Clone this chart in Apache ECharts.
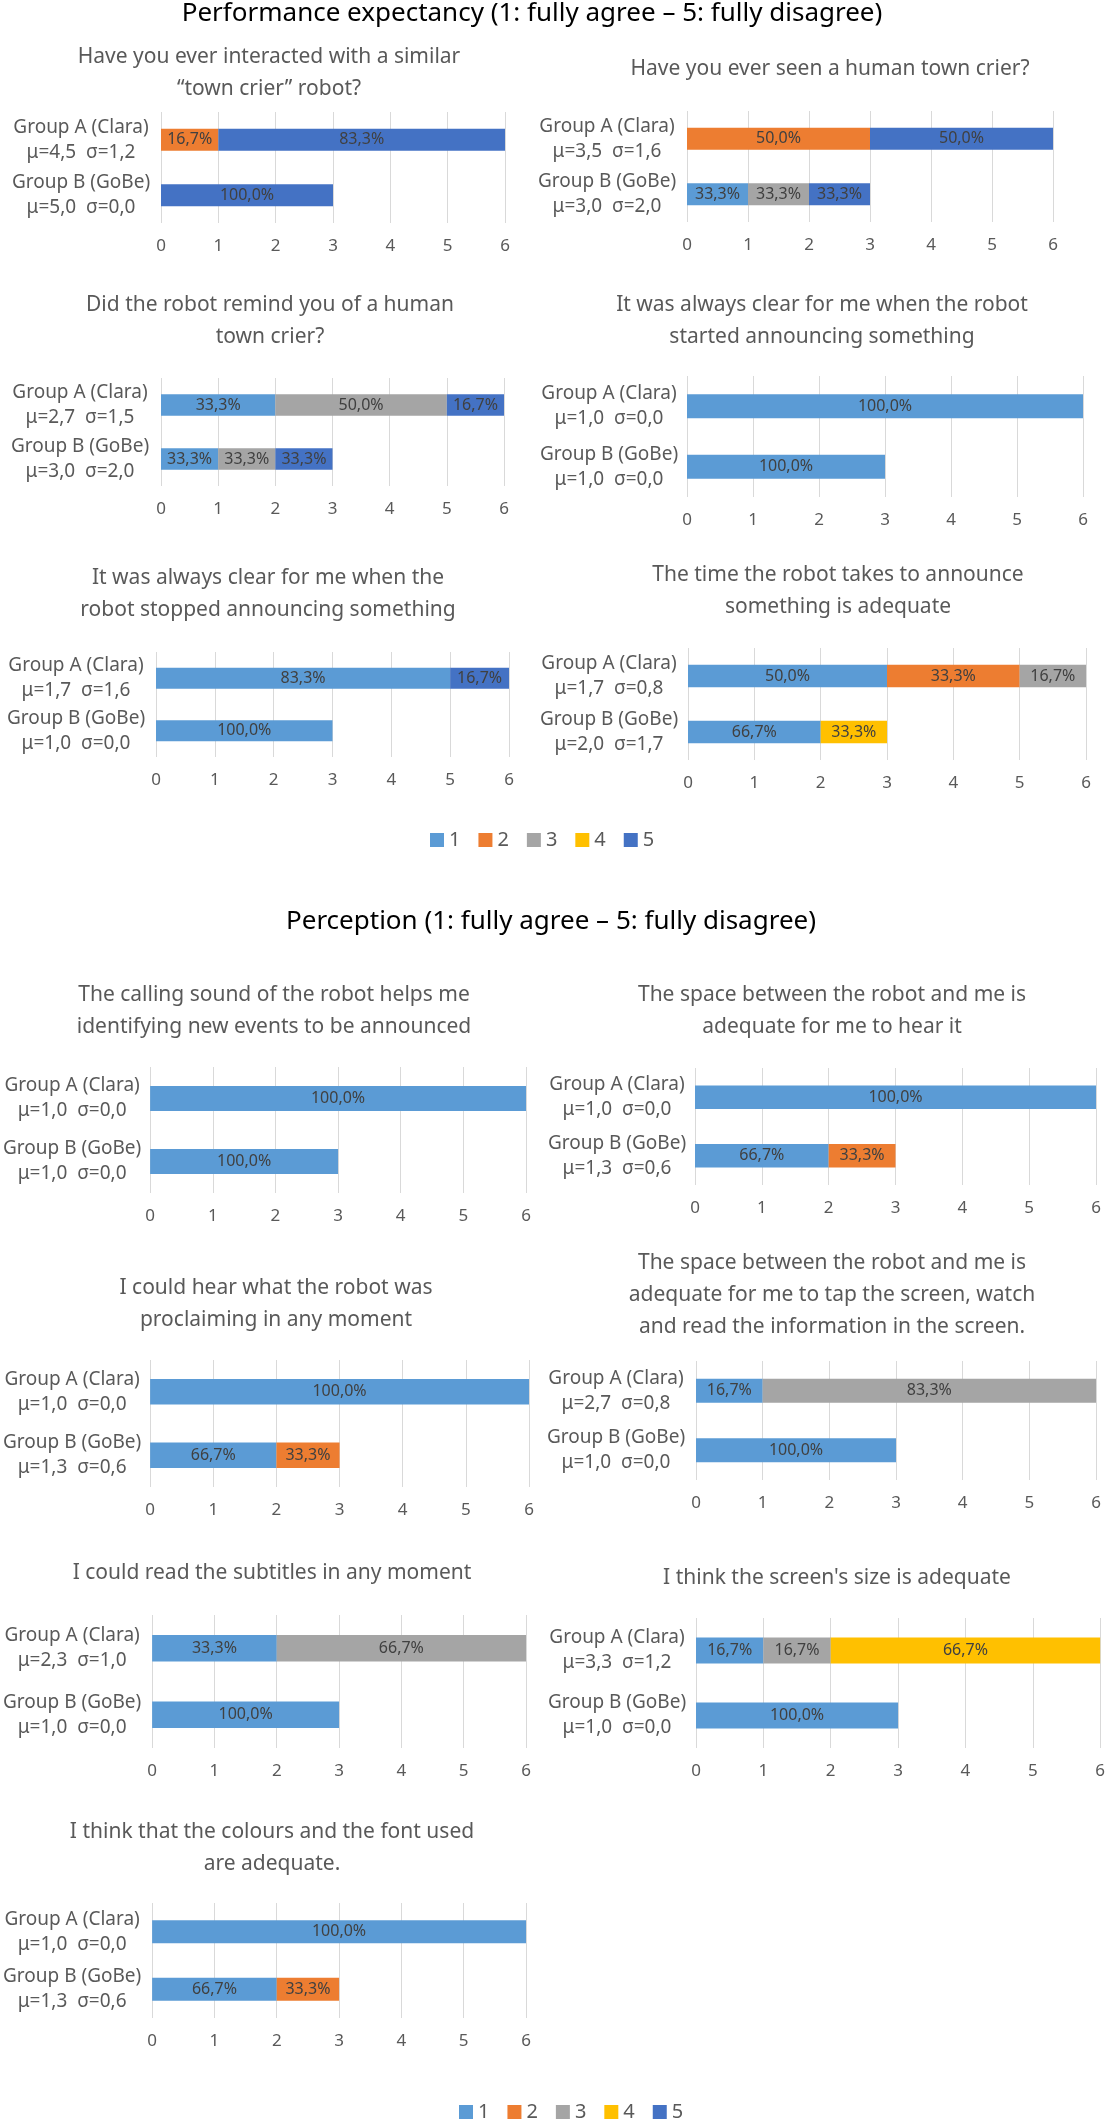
<!DOCTYPE html>
<html>
<head>
<meta charset="utf-8">
<script src="https://cdn.jsdelivr.net/npm/echarts@6/dist/echarts.min.js"></script>
<style>
html,body{margin:0;padding:0;background:#fff;}
#chart{width:1108px;height:2124px;}
</style>
</head>
<body>
<div id="chart"></div>
<script>
// ---------- DATA ----------
const sectionTitles = [
  'Performance expectancy (1: fully agree \u2013 5: fully disagree)',
  'Perception (1: fully agree \u2013 5: fully disagree)'
];
const panelTitles = [
  ['Have you ever interacted with a similar', '\u201ctown crier\u201d robot?'],
  ['Have you ever seen a human town crier?'],
  ['Did the robot remind you of a human', 'town crier?'],
  ['It was always clear for me when the robot', 'started announcing something'],
  ['It was always clear for me when the', 'robot stopped announcing something'],
  ['The time the robot takes to announce', 'something is adequate'],
  ['The calling sound of the robot helps me', 'identifying new events to be announced'],
  ['The space between the robot and me is', 'adequate for me to hear it'],
  ['I could hear what the robot was', 'proclaiming in any moment'],
  ['The space between the robot and me is', 'adequate for me to tap the screen, watch', 'and read the information in the screen.'],
  ['I could read the subtitles in any moment'],
  ["I think the screen's size is adequate"],
  ['I think that the colours and the font used', 'are adequate.']
];
const groupNames = ['Group A (Clara)', 'Group B (GoBe)'];
const statsA = ['\u03bc=4,5  \u03c3=1,2','\u03bc=3,5  \u03c3=1,6','\u03bc=2,7  \u03c3=1,5','\u03bc=1,0  \u03c3=0,0','\u03bc=1,7  \u03c3=1,6','\u03bc=1,7  \u03c3=0,8','\u03bc=1,0  \u03c3=0,0','\u03bc=1,0  \u03c3=0,0','\u03bc=1,0  \u03c3=0,0','\u03bc=2,7  \u03c3=0,8','\u03bc=2,3  \u03c3=1,0','\u03bc=3,3  \u03c3=1,2','\u03bc=1,0  \u03c3=0,0'];
const statsB = ['\u03bc=5,0  \u03c3=0,0','\u03bc=3,0  \u03c3=2,0','\u03bc=3,0  \u03c3=2,0','\u03bc=1,0  \u03c3=0,0','\u03bc=1,0  \u03c3=0,0','\u03bc=2,0  \u03c3=1,7','\u03bc=1,0  \u03c3=0,0','\u03bc=1,3  \u03c3=0,6','\u03bc=1,3  \u03c3=0,6','\u03bc=1,0  \u03c3=0,0','\u03bc=1,0  \u03c3=0,0','\u03bc=1,0  \u03c3=0,0','\u03bc=1,3  \u03c3=0,6'];
const responseNames = ['1', '2', '3', '4', '5'];
// counts per panel: [Group A, Group B]
const resp1 = [[0,0],[0,1],[2,1],[6,3],[5,3],[3,2],[6,3],[6,2],[6,2],[1,3],[2,3],[1,3],[6,2]];
const resp2 = [[1,0],[3,0],[0,0],[0,0],[0,0],[2,0],[0,0],[0,1],[0,1],[0,0],[0,0],[0,0],[0,1]];
const resp3 = [[0,0],[0,1],[3,1],[0,0],[0,0],[1,0],[0,0],[0,0],[0,0],[5,0],[4,0],[1,0],[0,0]];
const resp4 = [[0,0],[0,0],[0,0],[0,0],[0,0],[0,1],[0,0],[0,0],[0,0],[0,0],[0,0],[4,0],[0,0]];
const resp5 = [[5,3],[3,1],[1,1],[0,0],[1,0],[0,0],[0,0],[0,0],[0,0],[0,0],[0,0],[0,0],[0,0]];
const xTicks = [0, 1, 2, 3, 4, 5, 6];

// ---------- LAYOUT / STYLE ----------
const colors = ['#5B9BD5', '#ED7D31', '#A5A5A5', '#FFC000', '#4472C4'];
const FONT = '"Noto Sans", "Open Sans", sans-serif';
const layout = [
  {l:161, r:505, t:112, b:223, lc:81,  tx:269, ty:57},
  {l:687, r:1053,t:111, b:222, lc:607, tx:830, ty:69},
  {l:161, r:504, t:378, b:486, lc:80,  tx:270, ty:305},
  {l:687, r:1083,t:376, b:497, lc:609, tx:822, ty:305},
  {l:156, r:509, t:652, b:757, lc:76,  tx:268, ty:578},
  {l:688, r:1086,t:648, b:760, lc:609, tx:838, ty:575},
  {l:150, r:526, t:1067,b:1193,lc:72,  tx:274, ty:995},
  {l:695, r:1096,t:1068,b:1185,lc:617, tx:832, ty:995},
  {l:146, r:529, t:1360,b:1487,lc:68,  tx:276, ty:1288},
  {l:696, r:1096,t:1361,b:1480,lc:616, tx:832, ty:1263},
  {l:143, r:526, t:1615,b:1748,lc:63,  tx:272, ty:1573},
  {l:696, r:1101,t:1618,b:1748,lc:617, tx:837, ty:1578},
  {l:143, r:526, t:1903,b:2018,lc:63,  tx:272, ty:1832}
];
const sectionPos = [{x:532, y:14}, {x:551, y:922}];
const legendPos = [{left:430, top:830}, {left:459, top:2102}];

const allResp = [resp1, resp2, resp3, resp4, resp5];

const grids = [], xAxes = [], yAxes = [], series = [], graphics = [];

sectionTitles.forEach((t, i) => {
  graphics.push({type:'text', x: sectionPos[i].x, y: sectionPos[i].y, silent:true,
    style:{text:t, fill:'#000000', font:'26px ' + FONT, align:'center', verticalAlign:'middle'}});
});

layout.forEach((L, p) => {
  grids.push({left: L.l, top: L.t, width: L.r - L.l, height: L.b - L.t, containLabel:false});
  xAxes.push({
    type:'value', gridIndex:p, min:xTicks[0], max:xTicks[xTicks.length-1], interval:1,
    axisLine:{show:false}, axisTick:{show:false},
    splitLine:{show:true, lineStyle:{color:'#D9D9D9', width:1}},
    axisLabel:{color:'#595959', fontSize:17, fontFamily:FONT, margin:15}
  });
  yAxes.push({
    type:'category', gridIndex:p, inverse:true,
    data:[groupNames[0] + '\n' + statsA[p], groupNames[1] + '\n' + statsB[p]],
    axisLine:{show:false}, axisTick:{show:false}, splitLine:{show:false},
    axisLabel:{align:'center', margin: L.l - L.lc, fontSize:19, lineHeight:25, color:'#595959', fontFamily:FONT}
  });
  const totals = [0, 1].map(g => allResp.reduce((s, r) => s + r[p][g], 0));
  allResp.forEach((r, k) => {
    series.push({
      type:'bar', name: responseNames[k], xAxisIndex:p, yAxisIndex:p, stack:'s' + p,
      barCategoryGap:'60%',
      data: [r[p][0], r[p][1]],
      itemStyle:{color: colors[k]},
      emphasis:{disabled:true},
      label:{show:true, position:'inside', color:'#404040', fontSize:16, fontFamily:FONT,
        formatter: (prm) => prm.value ? (prm.value / totals[prm.dataIndex] * 100).toFixed(1).replace('.', ',') + '%' : ''}
    });
  });
  panelTitles[p].forEach((line, li) => {
    graphics.push({type:'text', x: L.tx, y: L.ty + li * 32, silent:true,
      style:{text:line, fill:'#595959', font:'21px ' + FONT, align:'center', verticalAlign:'middle'}});
  });
});

const legends = legendPos.map(pos => ({
  data: responseNames, left: pos.left, top: pos.top, orient:'horizontal',
  itemWidth:14, itemHeight:14, itemGap:18, icon:'rect', padding:0,
  textStyle:{color:'#595959', fontSize:20, lineHeight:16, fontFamily:FONT},
  selectedMode:false
}));

const chart = echarts.init(document.getElementById('chart'), null, {renderer:'canvas'});
chart.setOption({
  backgroundColor:'#ffffff',
  animation:false,
  textStyle:{fontFamily:FONT},
  grid: grids, xAxis: xAxes, yAxis: yAxes, series: series,
  legend: legends,
  graphic: graphics
});
</script>
</body>
</html>
